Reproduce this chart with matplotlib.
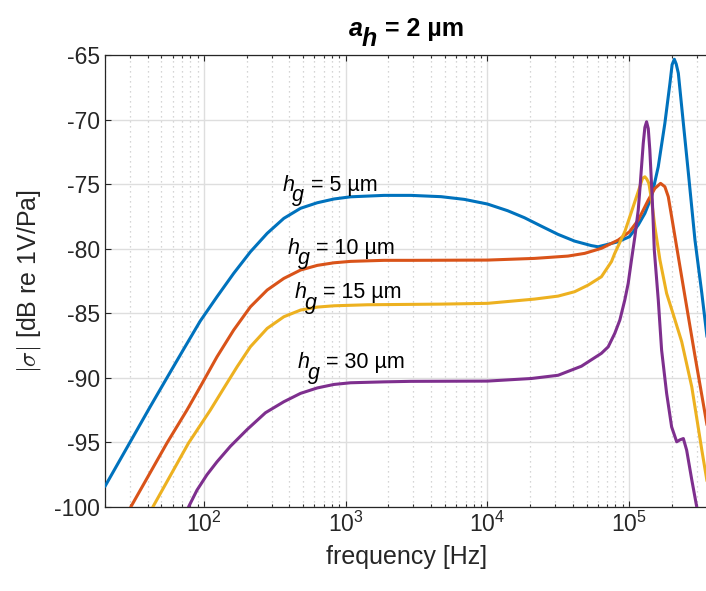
import numpy as np
import matplotlib.pyplot as plt
from matplotlib.ticker import LogLocator, FixedLocator, NullFormatter

plt.rcParams['font.family'] = ['Liberation Sans', 'DejaVu Sans']
plt.rcParams['mathtext.fontset'] = 'custom'
plt.rcParams['mathtext.rm'] = 'Liberation Sans'
plt.rcParams['mathtext.it'] = 'Liberation Sans:italic'
plt.rcParams['mathtext.bf'] = 'Liberation Sans:bold'
plt.rcParams['axes.unicode_minus'] = False

# sensitivity curves, one per gap height (freq in Hz, level in dB re 1V/Pa)
freq_5 = [20, 41.6, 54.7, 71.6, 94, 123.4, 161.8, 212.4, 278.9, 365.5, 479.8,
          630, 825.5, 1083, 1865, 2881, 4700, 6870, 10000, 13900, 18240, 23950,
          31480, 41200, 54100, 60400, 83600, 100500, 115900, 129100, 143900,
          160400, 178600, 194000, 200900, 208300, 214800, 222300, 241200,
          261800, 291300, 325700, 358700]
db_5 = [-98.4, -92.25, -90.0, -87.8, -85.6, -83.72, -81.91, -80.24, -78.81,
        -77.65, -76.87, -76.44, -76.15, -75.98, -75.87, -75.87, -75.97, -76.18,
        -76.54, -77.06, -77.6, -78.25, -78.89, -79.41, -79.76, -79.85, -79.46,
        -79.07, -78.16, -77.26, -75.97, -73.65, -70.29, -67.19, -65.75, -65.33,
        -65.7, -66.41, -70.29, -74.16, -79.33, -83.46, -87.33]

freq_10 = [30.4, 54.7, 75.7, 94, 123.4, 161.8, 212.4, 278.9, 365.5, 479.8, 630,
           825.5, 1083, 1865, 2881, 10000, 21500, 37000, 48500, 63700, 83600,
           100500, 115900, 136400, 151800, 166600, 178600, 188800, 199400,
           216300, 247600, 291300, 358700]
db_10 = [-100, -95.05, -92.5, -90.69, -88.37, -86.3, -84.5, -83.2, -82.3,
         -81.65, -81.29, -81.09, -80.98, -80.9, -80.9, -80.88, -80.75, -80.57,
         -80.36, -79.97, -79.33, -78.69, -77.78, -76.23, -75.33, -74.94, -75.2,
         -75.97, -77.52, -79.85, -83.7, -88.3, -94.0]

freq_15 = [43.5, 77.7, 110.7, 137.5, 171.1, 212.4, 278.9, 365.5, 479.8, 630,
           825.5, 1422, 2881, 4700, 10000, 21500, 31500, 41200, 51300, 63700,
           75000, 79100, 93100, 106700, 118900, 124200, 129100, 133000, 137700,
           143900, 151800, 164900, 183800, 204900, 234800, 276600, 325700,
           358700]
db_15 = [-100, -95.05, -92.5, -90.82, -89.14, -87.59, -86.17, -85.27, -84.75,
         -84.52, -84.42, -84.34, -84.31, -84.29, -84.23, -83.9, -83.67, -83.33,
         -82.82, -82.17, -81.0, -80.36, -78.69, -76.75, -75.2, -74.55, -74.43,
         -74.6, -74.94, -76.23, -78.3, -80.88, -83.46, -85.1, -87.2, -90.7,
         -95.6, -98.35]

freq_30 = [77.7, 89.1, 104.9, 123.4, 153.4, 201.4, 271.3, 365.5, 479.8, 630,
           825.5, 1083, 1865, 2881, 10000, 20400, 31500, 46000, 63700, 71100,
           79100, 85900, 93100, 98400, 103800, 109700, 115900, 118900, 125700,
           129100, 132700, 136400, 139900, 145600, 150400, 160500, 169400,
           183800, 199400, 216500, 228200, 241200, 254500, 276600, 299900]
db_30 = [-100, -98.7, -97.5, -96.5, -95.3, -94.0, -92.7, -91.85, -91.2, -90.78,
         -90.51, -90.38, -90.31, -90.27, -90.25, -90.05, -89.8, -89.1, -88.1,
         -87.6, -86.56, -85.53, -83.98, -82.69, -80.88, -79.07, -77.0, -75.46,
         -71.84, -70.6, -70.17, -70.7, -72.36, -76.2, -80.1, -83.98, -87.85,
         -91.2, -93.8, -94.95, -94.8, -94.7, -95.6, -97.9, -100]

curves = [(freq_5, db_5), (freq_10, db_10), (freq_15, db_15), (freq_30, db_30)]
colors = ['#0072BD', '#D95319', '#EDB120', '#7E2F8E']

gap_values = ['5', '10', '15', '30']
label_x = [356, 390, 435, 459]
label_y = [-75.51, -80.4, -83.85, -89.27]

fig = plt.figure(figsize=(7.06, 5.91), dpi=100)
ax = fig.add_axes([105 / 706, 84 / 591, 603 / 706, 452 / 591])

for (f, d), c in zip(curves, colors):
    ax.plot(f, d, color=c, lw=2.2, solid_joinstyle='round',
            solid_capstyle='round', zorder=3)


def hg_label(x, y, value):
    # h with a full size, dropped g subscript, then the value
    kw = dict(xycoords='data', textcoords='offset points', fontsize=15.5,
              va='baseline', ha='left', color='black')
    ax.annotate('h', (x, y), xytext=(0, 0), style='italic', **kw)
    ax.annotate('g', (x, y), xytext=(7.3, -7.3), style='italic', **kw)
    ax.annotate('= %s µm' % value, (x, y), xytext=(20.5, 0), **kw)


for v, x, y in zip(gap_values, label_x, label_y):
    hg_label(x, y, v)

# title built the same way: bold italic a with a dropped h
tkw = dict(xycoords='figure pixels', fontsize=18, fontweight='bold',
           va='baseline', ha='left', color='black')
ax.annotate('a', (349, 555), style='italic', **tkw)
ax.annotate('h', (362, 545), style='italic', **tkw)
ax.annotate('= 2 µm', (385, 555), **tkw)

ax.set_xscale('log')
ax.set_xlim(20, 3.6e5)
ax.set_ylim(-100, -65)
ax.yaxis.set_major_locator(FixedLocator(np.arange(-100, -64, 5)))
ax.xaxis.set_major_locator(LogLocator(base=10, numticks=10))
ax.xaxis.set_minor_locator(LogLocator(base=10, subs=np.arange(2, 10), numticks=20))
ax.xaxis.set_minor_formatter(NullFormatter())

ax.grid(True, which='major', color='#dedede', lw=1.0, ls='-', zorder=0)
ax.grid(True, which='minor', axis='x', color='#c8c8c8', lw=0.9, ls=(0, (1, 3)), zorder=0)

ax.tick_params(which='both', direction='in', top=True, right=False,
               color='#262626', labelcolor='#262626')
ax.tick_params(which='major', length=4, width=0.8, labelsize=16.5)
ax.tick_params(which='minor', length=2.5, width=0.8)
for s in ['left', 'bottom', 'top']:
    ax.spines[s].set_color('#262626')
    ax.spines[s].set_linewidth(0.9)
ax.spines['right'].set_visible(False)

ax.set_xlabel('frequency [Hz]', fontsize=18, color='#262626', labelpad=6)
ax.set_ylabel(r'$|\sigma|$ [dB re 1V/Pa]', fontsize=18, color='#262626',
              labelpad=8, math_fontfamily='cm')

fig.savefig('out.png', dpi=100)
